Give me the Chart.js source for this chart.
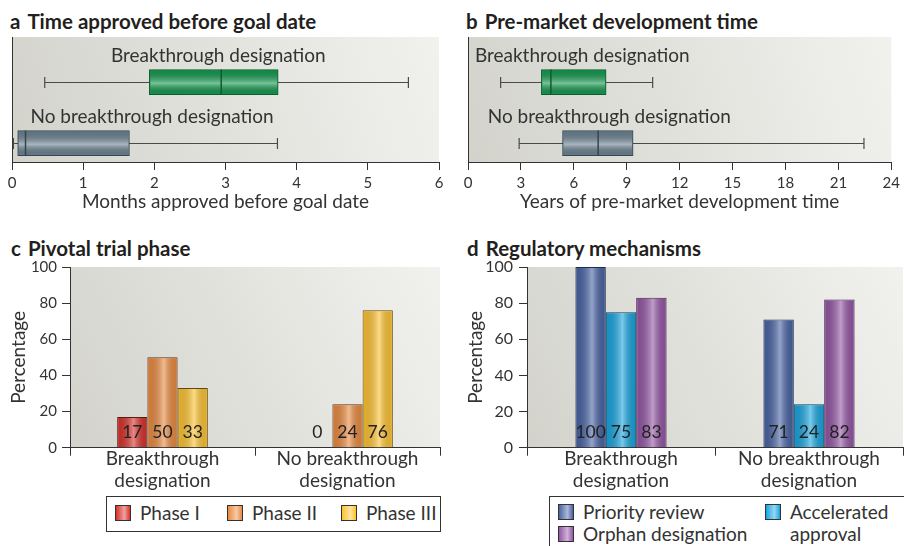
<!DOCTYPE html>
<html>
<head>
<meta charset="utf-8">
<script src="https://cdn.jsdelivr.net/npm/chart.js@4.4.1/dist/chart.umd.min.js"></script>
<style>
  body { margin: 0; background: #fff; }
  #wrap { position: relative; width: 904px; height: 546px; overflow: hidden; font-family: Lato, sans-serif; color: #333; }
  canvas { position: absolute; }
  .hd { position: absolute; font-weight: 700; font-size: 20.5px; line-height: 20.5px; white-space: nowrap; color: #231f20; }
  .hd span { margin-right: 7px; }
  .lg { position: absolute; border: 1px solid #333; box-sizing: border-box; background: #fff; }
  .it { position: absolute; font-size: 19px; line-height: 19px; white-space: nowrap; color: #333; }
  .sw { position: absolute; width: 16px; height: 16px; border: 1px solid #333; box-sizing: border-box; }
</style>
</head>
<body>
<div id="wrap">
  <div class="hd" style="left:10px;top:11px"><span>a</span>Time approved before goal date</div>
  <div class="hd" style="left:466px;top:11px"><span>b</span>Pre-market development time</div>
  <div class="hd" style="left:11px;top:238px"><span>c</span>Pivotal trial phase</div>
  <div class="hd" style="left:467px;top:238px"><span>d</span>Regulatory mechanisms</div>
  <canvas id="ca" width="450" height="225" style="left:0;top:0;width:450px;height:225px"></canvas>
  <canvas id="cb" width="454" height="225" style="left:450px;top:0;width:454px;height:225px"></canvas>
  <canvas id="cc" width="450" height="270" style="left:0;top:230px;width:450px;height:270px"></canvas>
  <canvas id="cd" width="454" height="270" style="left:450px;top:230px;width:454px;height:270px"></canvas>
  <div id="legC"></div>
  <div id="legD"></div>
</div>
<script>
// groups compared in every panel
const groups = ['Breakthrough designation', 'No breakthrough designation'];
const groupTicks = [['Breakthrough', 'designation'], ['No breakthrough', 'designation']];

// a: months approved before goal date (box plots)
const monthsLow = [0.46, 0.02];
const monthsQ1 = [1.93, 0.08];
const monthsMedian = [2.94, 0.19];
const monthsQ3 = [3.74, 1.65];
const monthsHigh = [5.57, 3.73];
const monthTicks = [0, 1, 2, 3, 4, 5, 6];

// b: years of pre-market development (box plots)
const yearsLow = [1.85, 2.9];
const yearsQ1 = [4.16, 5.36];
const yearsMedian = [4.7, 7.38];
const yearsQ3 = [7.83, 9.36];
const yearsHigh = [10.47, 22.45];
const yearTicks = [0, 3, 6, 9, 12, 15, 18, 21, 24];

// c: pivotal trial phase, percentage
const phases = ['Phase I', 'Phase II', 'Phase III'];
const phaseI = [17, 0];
const phaseII = [50, 24];
const phaseIII = [33, 76];

// d: regulatory mechanisms, percentage
const mechanisms = ['Priority review', 'Accelerated approval', 'Orphan designation'];
const priorityReview = [100, 71];
const acceleratedApproval = [75, 24];
const orphanDesignation = [83, 82];
const percentTicks = [0, 20, 40, 60, 80, 100];

Chart.defaults.font.family = 'Lato, sans-serif';
Chart.defaults.color = '#333';

const INK = '#333';

// grey gradient behind each plot
const panelBg = {
  id: 'panelBg',
  beforeDraw(chart) {
    const { ctx, chartArea: a } = chart;
    const g = ctx.createLinearGradient(a.left, a.bottom, a.right, a.top);
    g.addColorStop(0, '#d3d3cc');
    g.addColorStop(1, '#f1f1ee');
    ctx.save();
    ctx.fillStyle = g;
    ctx.fillRect(a.left, a.top, a.right - a.left, a.bottom - a.top);
    ctx.restore();
  }
};

// shiny tube look on the bars
function gloss(ctx, x0, y0, x1, y1, vertical) {
  const g = vertical ? ctx.createLinearGradient(0, y0, 0, y1) : ctx.createLinearGradient(x0, 0, x1, 0);
  g.addColorStop(0, 'rgba(0,0,0,0.10)');
  g.addColorStop(0.55, 'rgba(255,255,255,0.42)');
  g.addColorStop(1, 'rgba(0,0,0,0.10)');
  ctx.fillStyle = g;
  ctx.fillRect(x0, y0, x1 - x0, y1 - y0);
}

// whiskers, median and group label for the horizontal box plots
const boxPlot = {
  id: 'boxPlot',
  beforeDatasetsDraw(chart, args, o) {
    const { ctx } = chart;
    const x = chart.scales.x;
    ctx.save();
    ctx.strokeStyle = '#4a4a4a';
    ctx.lineWidth = 1.2;
    chart.getDatasetMeta(0).data.forEach((b, i) => {
      const y = Math.round(b.y) + 0.5;
      const lo = x.getPixelForValue(o.low[i]);
      const hi = x.getPixelForValue(o.high[i]);
      ctx.beginPath();
      ctx.moveTo(lo, y); ctx.lineTo(hi, y);
      ctx.moveTo(lo, y - 5.5); ctx.lineTo(lo, y + 5.5);
      ctx.moveTo(hi, y - 5.5); ctx.lineTo(hi, y + 5.5);
      ctx.stroke();
    });
    ctx.restore();
  },
  afterDatasetsDraw(chart, args, o) {
    const { ctx } = chart;
    const x = chart.scales.x;
    const ds = chart.data.datasets[0];
    ctx.save();
    chart.getDatasetMeta(0).data.forEach((b, i) => {
      const top = b.y - b.height / 2, bot = b.y + b.height / 2;
      const l = Math.min(b.x, b.base), r = Math.max(b.x, b.base);
      gloss(ctx, l + 1, top + 1, r - 1, bot - 1, true);
      const m = x.getPixelForValue(o.median[i]);
      ctx.strokeStyle = ds.borderColor[i];
      ctx.lineWidth = 1.5;
      ctx.beginPath();
      ctx.moveTo(m, top); ctx.lineTo(m, bot);
      ctx.stroke();
      ctx.fillStyle = INK;
      ctx.font = '19px Lato, sans-serif';
      ctx.textAlign = 'left';
      ctx.textBaseline = 'alphabetic';
      ctx.fillText(groups[i], x.getPixelForValue(o.labelAt[i]), b.y - 20.5);
    });
    ctx.restore();
  }
};

// gloss + value labels at the foot of the vertical bars
const barLabels = {
  id: 'barLabels',
  afterDatasetsDraw(chart) {
    const { ctx } = chart;
    const y0 = chart.scales.y.getPixelForValue(0);
    ctx.save();
    chart.data.datasets.forEach((ds, di) => {
      chart.getDatasetMeta(di).data.forEach((b, i) => {
        if (b.base - b.y > 3) {
          gloss(ctx, b.x - b.width / 2 + 1, b.y + 1, b.x + b.width / 2 - 1, b.base, false);
        }
        ctx.fillStyle = '#222';
        ctx.font = '17.5px Lato, sans-serif';
        ctx.textAlign = 'center';
        ctx.textBaseline = 'middle';
        ctx.fillText(String(ds.data[i]), b.x, y0 - 15);
      });
    });
    ctx.restore();
  }
};

function boxChart(id, h, q1, q3, ticks, max, pad, extra) {
  return new Chart(document.getElementById(id), {
    type: 'bar',
    data: {
      datasets: [{
        data: groups.map((g, i) => ({ x: [q1[i], q3[i]], y: i + 1 })),
        backgroundColor: ['#16984f', '#6b8291'],
        borderColor: ['#0d5c31', '#36444d'],
        borderWidth: 1,
        borderSkipped: false,
        barThickness: 25
      }]
    },
    options: {
      indexAxis: 'y',
      responsive: false,
      animation: false,
      events: [],
      devicePixelRatio: 1,
      layout: { padding: pad },
      scales: {
        x: {
          type: 'linear', min: 0, max: max,
          afterBuildTicks: s => { s.ticks = ticks.map(v => ({ value: v })); },
          afterFit: s => { s.height = h - 162; },
          grid: { drawOnChartArea: false, drawTicks: true, tickLength: 8, color: INK },
          border: { display: true, color: INK },
          ticks: { font: { size: 15 }, color: INK, padding: 4, maxRotation: 0 },
          title: { display: true, text: extra.title, font: { size: 19 }, color: INK, padding: { top: 0, bottom: 12 } }
        },
        y: {
          type: 'linear', min: 0.26, max: 2.31, reverse: true, bounds: 'data', offset: false,
          afterFit: s => { s.width = 0; },
          ticks: { display: false },
          grid: { display: false, drawTicks: false, offset: false },
          border: { display: true, color: INK }
        }
      },
      plugins: {
        legend: { display: false },
        tooltip: { enabled: false },
        boxPlot: extra.box
      }
    },
    plugins: [panelBg, boxPlot]
  });
}

boxChart('ca', 225, monthsQ1, monthsQ3, monthTicks, 6,
  { left: 12, right: 11, top: 37, bottom: 0 },
  { title: 'Months approved before goal date',
    box: { low: monthsLow, high: monthsHigh, median: monthsMedian, labelAt: [1.39, 0.26] } });

boxChart('cb', 225, yearsQ1, yearsQ3, yearTicks, 24,
  { left: 18, right: 9, top: 37, bottom: 0 },
  { title: 'Years of pre-market development time',
    box: { low: yearsLow, high: yearsHigh, median: yearsMedian, labelAt: [0.39, 1.12] } });

function barChart(id, series, names, fills, edges, catPct, yFont, yPad, titlePad, pad, left) {
  return new Chart(document.getElementById(id), {
    type: 'bar',
    data: {
      labels: groupTicks,
      datasets: series.map((s, k) => ({
        label: names[k],
        data: s,
        backgroundColor: fills[k],
        borderColor: edges[k],
        borderWidth: 1
      }))
    },
    options: {
      responsive: false,
      animation: false,
      events: [],
      devicePixelRatio: 1,
      layout: { padding: pad },
      datasets: { bar: { categoryPercentage: catPct, barPercentage: 1 } },
      scales: {
        x: {
          afterFit: s => { s.height = 270 - 217.7; },
          grid: { drawOnChartArea: false, drawTicks: true, tickLength: 8, color: INK, offset: true },
          border: { display: true, color: INK },
          ticks: { font: { size: 19, lineHeight: 1.15 }, color: INK, padding: -8, maxRotation: 0, autoSkip: false }
        },
        y: {
          min: 0, max: 100,
          afterBuildTicks: s => { s.ticks = percentTicks.map(v => ({ value: v })); },
          afterFit: s => { s.width = left; },
          grid: { drawOnChartArea: false, drawTicks: true, tickLength: 8, color: INK },
          border: { display: true, color: INK },
          ticks: { font: { size: yFont }, color: INK, padding: yPad },
          title: { display: true, text: 'Percentage', font: { size: 19 }, color: INK, padding: titlePad }
        }
      },
      plugins: { legend: { display: false }, tooltip: { enabled: false } }
    },
    plugins: [panelBg, barLabels]
  });
}

const phaseFill = ['#d7312b', '#e98a3f', '#fdc22f'];
const phaseEdge = ['#5a1a14', '#5a3418', '#5e4a10'];
const mechFill = ['#4863a4', '#18a5df', '#9456a5'];
const mechEdge = ['#1f2c4a', '#0d4460', '#3f2448'];

barChart('cc', [phaseI, phaseII, phaseIII], phases, phaseFill, phaseEdge, 0.49, 15, 5, 7,
  { left: 0, right: 10, top: 37, bottom: 0 }, 70);
barChart('cd', [priorityReview, acceleratedApproval, orphanDesignation], mechanisms, mechFill, mechEdge, 0.485, 16, 6, 14,
  { left: 0, right: 1, top: 37, bottom: 0 }, 77);

// legends
function swatch(c) {
  return 'background:linear-gradient(to right,' + c + ',rgba(255,255,255,0.55) 60%,' + c + '),' + c;
}
function addLegend(el, box, items) {
  let h = '<div class="lg" style="left:' + box[0] + 'px;top:' + box[1] + 'px;width:' + box[2] + 'px;height:' + box[3] + 'px"></div>';
  items.forEach(it => {
    h += '<div class="sw" style="left:' + it.x + 'px;top:' + (it.y + 2) + 'px;' + swatch(it.c) + '"></div>';
    it.lines.forEach((t, j) => {
      h += '<div class="it" style="left:' + (it.x + 25) + 'px;top:' + (it.y + j * 22) + 'px">' + t + '</div>';
    });
  });
  el.innerHTML = h;
}
addLegend(document.getElementById('legC'), [106, 496, 335, 36], [
  { x: 115, y: 503, c: phaseFill[0], lines: [phases[0]] },
  { x: 227, y: 503, c: phaseFill[1], lines: [phases[1]] },
  { x: 341, y: 503, c: phaseFill[2], lines: [phases[2]] }
]);
addLegend(document.getElementById('legD'), [549, 496, 400, 80], [
  { x: 558, y: 502, c: mechFill[0], lines: [mechanisms[0]] },
  { x: 558, y: 524, c: mechFill[2], lines: [mechanisms[2]] },
  { x: 765, y: 502, c: mechFill[1], lines: ['Accelerated', 'approval'] }
]);
</script>
</body>
</html>
